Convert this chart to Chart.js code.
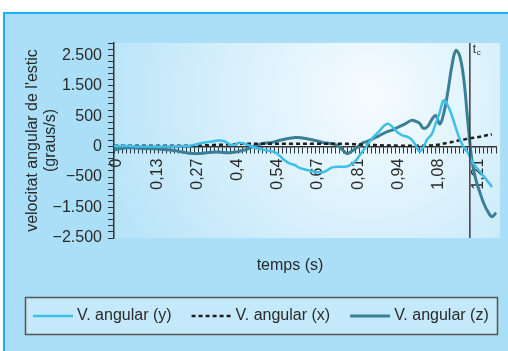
<!DOCTYPE html>
<html>
<head>
<meta charset="utf-8">
<script src="https://cdn.jsdelivr.net/npm/chart.js@4.4.1/dist/chart.umd.min.js"></script>
<style>
  html, body { margin: 0; padding: 0; background: #fff; }
  canvas { display: block; }
</style>
</head>
<body>
<canvas id="grafic" width="508" height="351"></canvas>
<script>
// Velocitat angular de l'estic, una mostra cada 0,01345 s
const xTickLabels = ['0', '0,13', '0,27', '0,4', '0,54', '0,67', '0,81', '0,94', '1,08', '1,21'];
const mostres = Array.from({length: 96}, (_, i) => i);

// eix vertical: valors etiquetats i el seu text
const yTickValues = [-2500, -1500, -500, 0, 500, 1500, 2500];
const yTickLabels = ['\u22122.500', '\u22121.500', '\u2212500', '0', '500', '1.500', '2.500'];

// graus/s
const velY = [
  10, 10, 10, 10, 10, 5, 0, 0, 0, 0,
  0, 0, 0, 0, 0, 5, 5, 10, 10, 15,
  30, 45, 60, 70, 80, 90, 100, 95, 70, 30,
  30, 60, 55, 35, 10, -15, -35, -50, -60, -75,
  -90, -140, -200, -250, -285, -305, -345, -365, -385, -400,
  -415, -425, -420, -390, -350, -335, -330, -330, -325, -290,
  -240, -150, -65, 30, 120, 190, 255, 330, 375, 340,
  270, 210, 175, 160, 115, 25, -80, 0, 130, 200,
  380, 620, 1020, 850, 530, 310, 120, -15, -100, -240,
  -330, -410, -490, -650, -830
];
const velX = [
  15, 15, 15, 15, 15, 15, 15, 15, 15, 15,
  15, 15, 15, 15, 15, 15, 15, 15, 15, 15,
  15, 18, 20, 22, 25, 28, 30, 32, 35, 38,
  40, 42, 45, 45, 45, 45, 45, 45, 45, 45,
  45, 45, 45, 45, 45, 45, 45, 45, 45, 45,
  45, 45, 45, 45, 45, 45, 45, 45, 45, 42,
  38, 35, 32, 30, 28, 25, 22, 20, 20, 18,
  16, 15, 15, 15, 15, 15, 15, 15, 15, 20,
  25, 35, 50, 60, 75, 90, 105, 115, 130, 140,
  150, 160, 175, 190, 200
];
const velZ = [
  -60, -40, -30, -20, -20, -20, -25, -30, -30, -35,
  -35, -40, -45, -50, -55, -65, -75, -90, -100, -110,
  -115, -115, -110, -100, -95, -90, -90, -95, -100, -100,
  -90, -80, -65, -45, -15, 10, 30, 50, 60, 65,
  80, 100, 115, 130, 140, 148, 148, 140, 130, 115,
  100, 85, 65, 58, 50, 35, 0, -65, -115, -80,
  -35, 15, 65, 85, 115, 150, 180, 215, 245, 265,
  295, 330, 360, 395, 430, 415, 380, 300, 330, 440,
  520, 370, 590, 1280, 2130, 2650, 2460, 1700, 410, -215,
  -590, -1010, -1375, -1640, -1800, -1670
];

// instant de contacte (en mostres)
const tcSample = 88.5;
const xTitle = 'temps (s)';
const yTitle = ["velocitat angular de l'estic", '(graus/s)'];

const FONT = '"Liberation Sans", Arial, Helvetica, sans-serif';
const TEXT = '#2a2a2a';

// les marques de l'eix no són equidistants en graus/s: una unitat per marca
const zero = yTickValues.indexOf(0);
function toAxis(v) {
  if (v == null) return null;
  let k = 0;
  while (k < yTickValues.length - 2 && v > yTickValues[k + 1]) k++;
  const a = yTickValues[k], b = yTickValues[k + 1];
  return k + (v - a) / (b - a) - zero;
}

const fons = {
  id: 'fons',
  beforeDraw(chart) {
    const {ctx, chartArea: a, width, height} = chart;
    ctx.save();
    ctx.fillStyle = '#ffffff';
    ctx.fillRect(0, 0, width, height);
    ctx.fillStyle = '#abdff8';
    ctx.fillRect(3, 12, width - 3, height - 12);
    ctx.fillStyle = '#1cb1ea';
    ctx.fillRect(3, 12, width - 3, 2);
    ctx.fillRect(3, 12, 2, height - 12);
    const w = a.right - a.left, h = a.bottom - a.top;
    const cx = a.left + w * 0.67, cy = a.top + h * 0.27;
    const g = ctx.createRadialGradient(cx, cy, 0, cx, cy, 300);
    g.addColorStop(0, '#f7fcff');
    g.addColorStop(1, '#b3e2f8');
    ctx.fillStyle = g;
    ctx.fillRect(a.left - 1, a.top, w + 5, h);
    ctx.restore();
  }
};

const marcaTc = {
  id: 'marcaTc',
  afterDatasetsDraw(chart) {
    const {ctx, chartArea: a, scales} = chart;
    const px = scales.x.getPixelForValue(tcSample);
    ctx.save();
    ctx.strokeStyle = '#3c3c3c';
    ctx.lineWidth = 1.5;
    ctx.beginPath();
    ctx.moveTo(px, a.top);
    ctx.lineTo(px, a.bottom);
    ctx.stroke();
    ctx.fillStyle = TEXT;
    ctx.textAlign = 'left';
    ctx.textBaseline = 'alphabetic';
    ctx.font = '12px ' + FONT;
    ctx.fillText('t', px + 3, a.top + 10);
    ctx.font = '8px ' + FONT;
    ctx.fillText('c', px + 7, a.top + 12);
    ctx.restore();
  }
};

// títol de l'eix x i llegenda amb marc
const peu = {
  id: 'peu',
  afterDraw(chart) {
    const {ctx} = chart;
    ctx.save();
    ctx.font = '16px ' + FONT;
    ctx.fillStyle = TEXT;
    ctx.textBaseline = 'middle';
    ctx.textAlign = 'center';
    ctx.fillText(xTitle, 290, 266);

    ctx.fillStyle = '#c4e9fa';
    ctx.fillRect(25, 297, 473, 38);
    ctx.strokeStyle = '#555';
    ctx.lineWidth = 1.5;
    ctx.strokeRect(25.5, 297.5, 472, 37);

    let x = 33;
    const y = 316;
    chart.data.datasets.forEach(ds => {
      ctx.beginPath();
      ctx.setLineDash(ds.borderDash || []);
      ctx.strokeStyle = ds.borderColor;
      ctx.lineWidth = ds.borderWidth;
      ctx.moveTo(x, y);
      ctx.lineTo(x + 40, y);
      ctx.stroke();
      ctx.setLineDash([]);
      ctx.textAlign = 'left';
      ctx.fillStyle = TEXT;
      ctx.fillText(ds.label, x + 44, y);
      x += 44 + ctx.measureText(ds.label).width + 20;
    });
    ctx.restore();
  }
};

Chart.defaults.font.family = FONT;
Chart.defaults.font.size = 16;
Chart.defaults.color = TEXT;

new Chart(document.getElementById('grafic'), {
  type: 'line',
  data: {
    labels: mostres,
    datasets: [
      {
        label: 'V. angular (y)',
        data: velY.map(toAxis),
        borderColor: '#3dbfea',
        borderWidth: 2.5
      },
      {
        label: 'V. angular (x)',
        data: velX.map(toAxis),
        borderColor: '#1e1e1e',
        borderWidth: 2.5,
        borderDash: [4, 3]
      },
      {
        label: 'V. angular (z)',
        data: velZ.map(toAxis),
        borderColor: '#3b7f97',
        borderWidth: 3
      }
    ]
  },
  options: {
    responsive: false,
    animation: false,
    devicePixelRatio: 1,
    events: [],
    elements: {
      point: {radius: 0},
      line: {tension: 0.4, fill: false}
    },
    layout: {padding: {top: 43, right: 12, bottom: 113, left: 15}},
    scales: {
      x: {
        type: 'category',
        position: {y: 0},
        offset: false,
        // l'eix va dins l'àrea del gràfic: no cal marge lateral per a les etiquetes
        afterFit: s => { s.paddingLeft = 0; s.paddingRight = 0; },
        grid: {drawOnChartArea: false, drawTicks: true, tickLength: 6, color: '#333', tickWidth: 1},
        border: {display: true, color: '#333', width: 1.5},
        ticks: {
          autoSkip: false,
          minRotation: 90,
          maxRotation: 90,
          padding: 6,
          labelOffset: 3,
          callback: (v, i) => (i % 10 === 0 ? xTickLabels[i / 10] : '')
        }
      },
      y: {
        min: -3,
        max: 3.4,
        afterFit: s => { s.width = 99; },
        grid: {drawOnChartArea: false, tickLength: 6, color: '#333'},
        border: {display: true, color: '#333', width: 1.5},
        ticks: {
          stepSize: 0.2,
          autoSkip: false,
          padding: 6,
          callback: v => {
            const r = Math.round(v);
            return Math.abs(v - r) < 1e-6 && yTickLabels[r + zero] ? yTickLabels[r + zero] : '';
          }
        },
        title: {
          display: true,
          text: yTitle,
          font: {size: 16, lineHeight: 1.1},
          padding: {top: 9, bottom: 0}
        }
      }
    },
    plugins: {
      legend: {display: false},
      tooltip: {enabled: false}
    }
  },
  plugins: [fons, marcaTc, peu]
});
</script>
</body>
</html>
